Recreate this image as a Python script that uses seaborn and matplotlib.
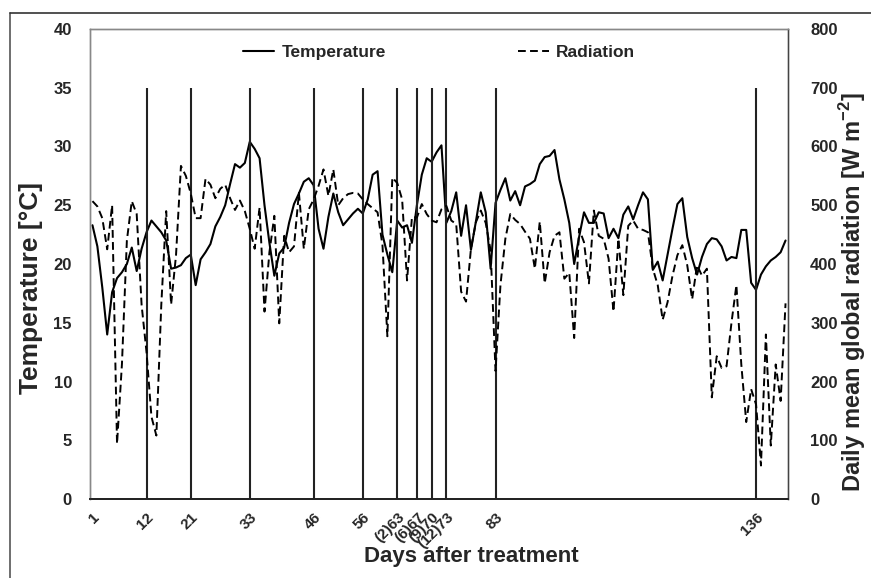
"""
Daily temperature and radiation after treatment
"""

import numpy as np
import pandas as pd
import matplotlib
matplotlib.use("Agg")
import matplotlib.pyplot as plt
from matplotlib.lines import Line2D
import seaborn as sns

# days after treatment (category axis)
days = list(range(1, 143))

# daily mean air temperature [°C]
temperature = [
    23.3, 21.5, 18.0, 14.0, 17.6, 18.8, 19.3, 20.0, 21.4, 19.4,
    21.3, 22.7, 23.7, 23.2, 22.7, 22.0, 19.6, 19.7, 19.9, 20.5,
    20.8, 18.2, 20.4, 21.0, 21.7, 23.2, 24.0, 25.0, 26.8, 28.5,
    28.2, 28.6, 30.4, 29.8, 29.0, 25.0, 21.8, 19.0, 20.9, 21.4,
    23.5, 25.1, 26.0, 27.0, 27.3, 26.7, 23.0, 21.3, 24.0, 26.0,
    24.4, 23.3, 23.8, 24.3, 24.7, 24.3, 25.5, 27.6, 27.9, 22.5,
    20.8, 19.3, 23.7, 23.1, 23.3, 21.8, 25.0, 27.6, 29.0, 28.7,
    29.5, 30.1, 23.5, 24.5, 26.1, 22.4, 25.0, 21.2, 23.6, 26.1,
    24.4, 19.6, 25.2, 26.3, 27.3, 25.4, 26.2, 25.0, 26.6, 26.8,
    27.1, 28.5, 29.1, 29.2, 29.7, 27.2, 25.5, 23.5, 20.0, 22.3,
    24.4, 23.5, 23.5, 24.4, 24.3, 22.2, 23.0, 22.2, 24.2, 24.9,
    23.8, 25.0, 26.1, 25.5, 19.5, 20.2, 18.6, 20.8, 23.0, 25.1,
    25.6, 22.3, 20.5, 19.1, 20.6, 21.7, 22.2, 22.1, 21.5, 20.3,
    20.6, 20.5, 22.9, 22.9, 18.4, 17.8, 19.1, 19.8, 20.3, 20.6,
    21.0, 22.0,
]

# daily mean global radiation [W m-2]
radiation = [
    507, 498, 478, 425, 500, 94, 230, 440, 507, 485,
    330, 250, 140, 108, 330, 490, 331, 415, 567, 550,
    520, 478, 478, 545, 535, 512, 528, 535, 512, 492,
    508, 490, 460, 426, 496, 319, 420, 482, 299, 448,
    420, 430, 521, 426, 493, 510, 533, 561, 516, 561,
    500, 512, 519, 521, 520, 510, 502, 495, 488, 432,
    277, 547, 538, 510, 372, 480, 479, 502, 485, 474,
    471, 493, 499, 474, 468, 353, 336, 426, 471, 491,
    470, 423, 218, 364, 443, 485, 475, 468, 455, 443,
    392, 472, 367, 420, 448, 454, 375, 385, 274, 460,
    437, 367, 491, 448, 443, 409, 319, 443, 347, 465,
    474, 460, 458, 454, 392, 364, 305, 335, 380, 415,
    432, 398, 340, 398, 380, 392, 173, 243, 223, 226,
    300, 364, 229, 131, 187, 161, 57, 280, 91, 229,
    167, 333,
]

# sampling / treatment days marked with vertical lines
event_days = [12, 21, 33, 46, 56, 63, 67, 70, 73, 83, 136]
tick_days = [1, 12, 21, 33, 46, 56, 63, 67, 70, 73, 83, 136]
tick_labels = ["1", "12", "21", "33", "46", "56", "(2)63", "(6)67",
               "(9)70", "(12)73", "83", "136"]
event_top = 35

df = pd.DataFrame({"day": days, "temperature": temperature, "radiation": radiation})

sns.set_style("white")
plt.rcParams["font.family"] = ["Liberation Sans", "DejaVu Sans"]
plt.rcParams["font.weight"] = "bold"
plt.rcParams["mathtext.fontset"] = "custom"
plt.rcParams["mathtext.rm"] = "Liberation Sans:bold"
plt.rcParams["mathtext.bf"] = "Liberation Sans:bold"

fig = plt.figure(figsize=(8.71, 5.78), dpi=100)
ax = fig.add_axes([90 / 871, 1 - 499 / 578, 698 / 871, 470 / 578])
ax2 = ax.twinx()

sns.lineplot(data=df, x="day", y="temperature", ax=ax, color="black", linewidth=1.5)
sns.lineplot(data=df, x="day", y="radiation", ax=ax2, color="black", linewidth=1.4,
             dashes=False)
ax2.lines[0].set_dashes((4.0, 2.2))

ax.vlines(event_days, 0, event_top, color="#222222", linewidth=1.5)

ax.set_xlim(0.5, 142.5)
ax.set_ylim(0, 40)
ax2.set_ylim(0, 800)
ax.set_yticks(np.arange(0, 41, 5))
ax2.set_yticks(np.arange(0, 801, 100))
ax.set_xticks(tick_days)
ax.set_xticklabels(tick_labels, rotation=45, ha="right", va="top",
                   rotation_mode="anchor", fontsize=11, fontweight="bold")
ax.tick_params(axis="x", length=0, pad=8)
ax.tick_params(axis="y", length=0, pad=13, labelsize=12)
ax2.tick_params(axis="y", length=0, pad=16, labelsize=12)
for lab in ax.get_yticklabels() + ax2.get_yticklabels():
    lab.set_fontweight("bold")

for a in (ax, ax2):
    for side in ["left", "top", "right"]:
        a.spines[side].set_color("#888888")
        a.spines[side].set_linewidth(1.0)
    a.spines["bottom"].set_color("#222222")
    a.spines["bottom"].set_linewidth(1.3)
ax2.spines["right"].set_color("#444444")

ax.set_xlabel("Days after treatment", fontsize=16, fontweight="bold")
ax.set_ylabel("Temperature [°C]", fontsize=19, fontweight="bold")
ax2.set_ylabel(r"Daily mean global radiation [W m$^{\mathbf{-2}}$]",
               fontsize=17, fontweight="bold")
ax.xaxis.set_label_coords(0.546, -0.10)
ax.yaxis.set_label_coords(-0.068, 0.45)
ax2.yaxis.set_label_coords(1.071, 0.44)

handles = [
    Line2D([0], [0], color="black", linewidth=1.5),
    Line2D([0], [0], color="black", linewidth=1.4, dashes=(4.0, 2.2)),
]
ax.legend(handles, ["Temperature", "Radiation"], loc="center",
          bbox_to_anchor=(0.5, 0.951), ncol=2, frameon=False,
          prop={"size": 12.5, "weight": "bold"}, handlelength=1.8,
          handletextpad=0.4, columnspacing=7.6)

# outer border of the original figure
fig.add_artist(Line2D([10 / 871, 10 / 871], [0, 1 - 13 / 578],
                      transform=fig.transFigure, color="#555555", linewidth=1.2))
fig.add_artist(Line2D([10 / 871, 1], [1 - 13 / 578, 1 - 13 / 578],
                      transform=fig.transFigure, color="#333333", linewidth=1.2))

fig.savefig("out.png", dpi=100)
